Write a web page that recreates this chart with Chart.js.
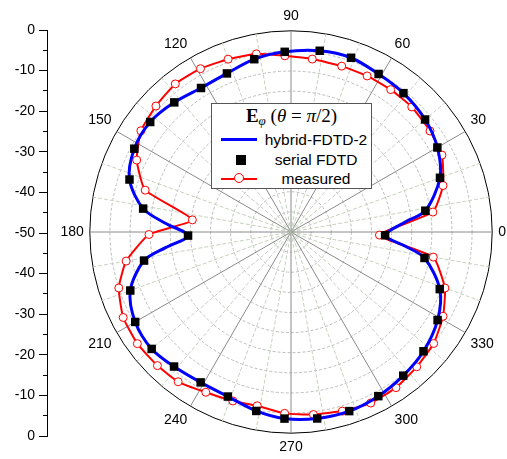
<!DOCTYPE html>
<html>
<head>
<meta charset="utf-8">
<script src="https://cdn.jsdelivr.net/npm/chart.js@4"></script>
<style>
  html, body { margin: 0; padding: 0; width: 507px; height: 459px; overflow: hidden; background: #fff; }
  #wrap { position: relative; width: 507px; height: 459px; }
  #polar { position: absolute; left: 35px; top: 0; }
  #axis { position: absolute; left: 0; top: 0; }
  #legend {
    position: absolute; left: 211px; top: 103px; width: 161px; height: 86px;
    box-sizing: border-box; border: 1px solid #555; background: #fff;
    font-family: "Liberation Sans", Arial, sans-serif; color: #000;
  }
  #legend .ttl {
    position: absolute; left: 0; right: 0; top: 1px; text-align: center;
    font-family: "Liberation Serif", "DejaVu Serif", serif; font-size: 19px; line-height: 22px; color: #000;
  }
  #legend .ttl sub { font-size: 13px; vertical-align: -3px; }
  #legend .row { position: absolute; left: 0; right: 0; height: 20px; line-height: 20px; font-size: 15.5px; }
  #legend .txt { position: absolute; left: 52px; width: 104px; text-align: center; white-space: nowrap; }
  #legend .sym { position: absolute; }
</style>
</head>
<body>
<div id="wrap">
  <canvas id="polar" width="512" height="459"></canvas>
  <canvas id="axis" width="60" height="459"></canvas>
  <div id="legend"><div class="ttl"><b>E</b><sub><i>φ</i></sub> (<i>θ</i> = <i>π</i>/2)</div></div>
</div>
<script>
// ------------------------------------------------------
// data (angle in degrees, level in dB)
// ------------------------------------------------------
const seriesNames = ['hybrid-FDTD-2', 'serial FDTD', 'measured'];

const hybridAngles = [353, 358, 5, 9, 20, 30, 40, 51, 61, 71, 81, 92, 102, 112, 122, 132, 142, 152, 162, 171,
  176, 182, 187, 191, 200, 210, 220, 229, 239, 249, 259, 268, 278, 288, 298, 308, 318, 329, 339, 349];
const hybridValues = [-21.5, -26.6, -21.5, -16.2, -10.6, -8.0, -6.5, -5.6, -5.1, -4.2, -4.4, -5.2, -6.1, -7.5, -7.8, -6.65, -5.6, -5.9, -7.8, -12.8,
  -18.7, -24.4, -18.7, -12.8, -7.5, -5.3, -4.8, -5.7, -6.4, -6.2, -4.7, -3.6, -3.2, -3.2, -3.8, -4.7, -5.7, -7.5, -10.4, -16.2];

const serialAngles = [358, 9, 20, 30, 40, 51, 61, 71, 81, 92, 102, 112, 122, 132, 142, 152, 162, 171,
  182, 191, 200, 210, 220, 229, 239, 249, 259, 268, 278, 288, 298, 308, 318, 329, 339, 349];
const serialValues = [-26.6, -16.2, -10.6, -8.0, -6.5, -5.6, -5.1, -4.2, -4.4, -5.2, -6.1, -7.5, -7.8, -6.65, -5.6, -5.9, -7.8, -12.8,
  -24.4, -12.8, -7.5, -5.3, -4.8, -5.7, -6.4, -6.2, -4.7, -3.6, -3.2, -3.2, -3.8, -4.7, -5.7, -7.5, -10.4, -16.2];

const measuredAngles = [358, 8, 17, 27, 36, 46, 55, 64, 73, 83, 92, 101, 110, 119, 128, 137, 146, 155, 164, 173,
  181, 190, 198, 207, 216, 225, 233, 242, 251, 259, 268, 277, 286, 295, 304, 313, 322, 331, 340, 350];
const measuredValues = [-28.0, -14.4, -10.5, -7.9, -7.3, -6.8, -6.8, -6.85, -6.9, -6.7, -6.2, -4.9, -4.3, -3.6, -3.3, -4.1, -5.0, -7.7, -12.3, -25.3,
  -14.7, -8.4, -5.0, -3.2, -2.8, -3.05, -3.4, -4.9, -5.6, -6.0, -4.9, -4.3, -3.7, -3.1, -3.35, -4.2, -5.0, -6.8, -9.3, -14.1];

const rMin = -50, rMax = 0;
const axisMin = -50, axisMax = 50;

// ------------------------------------------------------
// polar chart: one category per degree, counter-clockwise from the right
// ------------------------------------------------------
const thetaOf = i => (360 - i) % 360;
const angleLabels = Array.from({ length: 360 }, (_, i) => String(thetaOf(i)));

function spread(angles, values) {
  const out = Array(360).fill(null);
  angles.forEach((a, k) => { out[(360 - a) % 360] = values[k]; });
  return out;
}

const FONT = '"Liberation Sans", Arial, sans-serif';

new Chart(document.getElementById('polar'), {
  type: 'radar',
  data: {
    labels: angleLabels,
    datasets: [
      {
        label: seriesNames[1],
        data: spread(serialAngles, serialValues),
        showLine: false,
        fill: false,
        borderColor: 'transparent',
        backgroundColor: 'transparent',
        pointStyle: 'rect',
        pointRadius: 6,
        pointBackgroundColor: '#000',
        pointBorderColor: '#000',
        pointBorderWidth: 0,
        spanGaps: true,
      },
      {
        label: seriesNames[0],
        data: spread(hybridAngles, hybridValues),
        borderColor: '#0000ff',
        backgroundColor: 'transparent',
        borderWidth: 3,
        pointRadius: 0,
        tension: 0.3,
        fill: false,
        spanGaps: true,
      },
      {
        label: seriesNames[2],
        data: spread(measuredAngles, measuredValues),
        borderColor: '#ff0000',
        backgroundColor: 'transparent',
        borderWidth: 2,
        pointRadius: 4,
        pointBackgroundColor: '#fff',
        pointBorderColor: '#ff0000',
        pointBorderWidth: 1,
        tension: 0.15,
        fill: false,
        spanGaps: true,
      }
    ]
  },
  options: {
    responsive: false,
    animation: false,
    events: [],
    layout: { padding: { top: 8, bottom: 2, left: 0, right: 0 } },
    plugins: { legend: { display: false }, tooltip: { enabled: false } },
    scales: {
      r: {
        min: rMin,
        max: rMax,
        startAngle: 90,
        ticks: { display: false, stepSize: 5 },
        grid: {
          circular: true,
          color: ctx => (ctx.tick && ctx.tick.value === rMax ? '#000' : '#bcbcbc'),
          lineWidth: 1,
        },
        border: {
          dash: ctx => (ctx.tick && ctx.tick.value === rMax ? [] : [3, 2]),
        },
        angleLines: {
          color: ctx => {
            const t = thetaOf(ctx.index);
            if (t % 30 === 0) return '#8a8a8a';
            if (t % 10 === 0) return '#c4d2bf';
            return 'transparent';
          },
          lineWidth: ctx => (thetaOf(ctx.index) % 10 === 0 ? 1 : 0),
          borderDash: ctx => (thetaOf(ctx.index) % 30 === 0 ? [] : [4, 2]),
        },
        pointLabels: {
          padding: 6,
          color: '#000',
          font: { family: FONT, size: 14 },
          callback: label => (Number(label) % 30 === 0 ? label : ''),
        }
      }
    }
  }
});

// ------------------------------------------------------
// left level axis: 0 at both ends, -50 at the centre
// ------------------------------------------------------
new Chart(document.getElementById('axis'), {
  type: 'scatter',
  data: { datasets: [] },
  options: {
    responsive: false,
    animation: false,
    events: [],
    layout: { padding: { top: 30, bottom: 23, left: 0, right: 0 } },
    plugins: { legend: { display: false }, tooltip: { enabled: false } },
    scales: {
      x: { display: false },
      y: {
        min: axisMin,
        max: axisMax,
        afterFit: s => { s.width = 47; },
        ticks: {
          stepSize: 5,
          autoSkip: false,
          padding: 4,
          color: '#000',
          font: { family: FONT, size: 14 },
          callback: v => (v % 10 === 0 ? String(-(50 - Math.abs(v))) : ''),
        },
        grid: {
          drawOnChartArea: false,
          tickLength: 8,
          tickColor: '#000',
          tickBorderDash: ctx => (ctx.tick && ctx.tick.value % 10 === 0 ? [] : [0, 4, 4, 0]),
        },
        border: { color: '#000', width: 1 }
      }
    }
  }
});

// ------------------------------------------------------
// legend box
// ------------------------------------------------------
const legend = document.getElementById('legend');
const rowTops = [26, 46, 65];
const symbols = [
  '<div class="sym" style="left:9px;top:8px;width:36px;height:3px;background:#0000ff"></div>',
  '<div class="sym" style="left:24px;top:5px;width:10px;height:10px;background:#000"></div>',
  '<div class="sym" style="left:9px;top:9px;width:36px;height:2px;background:#ff0000"></div>' +
  '<div class="sym" style="left:22px;top:4px;width:8px;height:8px;border:1px solid #ff0000;border-radius:50%;background:#fff"></div>'
];
seriesNames.forEach((name, i) => {
  const row = document.createElement('div');
  row.className = 'row';
  row.style.top = rowTops[i] + 'px';
  row.innerHTML = symbols[i] + '<span class="txt">' + name + '</span>';
  legend.appendChild(row);
});
</script>
</body>
</html>
